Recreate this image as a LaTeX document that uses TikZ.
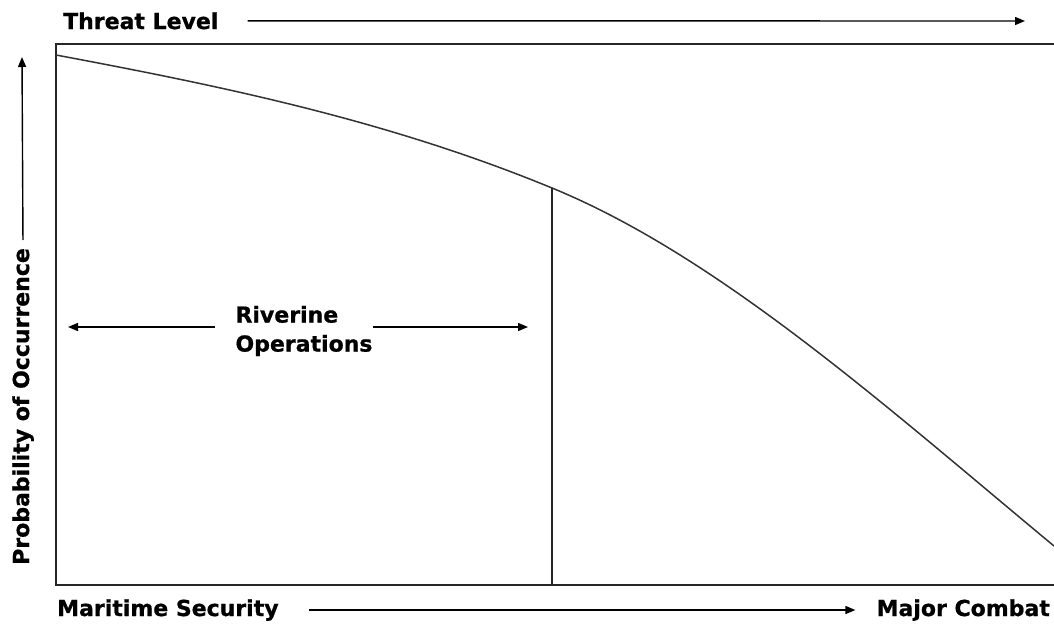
\documentclass[tikz,border=0pt]{standalone}
\usepackage{fontspec}
\setmainfont{DejaVu Sans}[BoldFeatures={FakeBold=0.8}]
\usetikzlibrary{arrows.meta,positioning}

\begin{document}
\begin{tikzpicture}[x=1pt,y=-1pt,font=\fontsize{22}{29}\selectfont\bfseries,
    frame/.style={line width=1.6pt,draw=black!85},
    curve/.style={line width=1.5pt,draw=black!80},
    tip/.style={-{Triangle[length=10pt,width=8pt]},line width=1.4pt,draw=black}]
   \useasboundingbox (0,0) rectangle (1054,624);

   % the frame, open on the right
   \draw[frame] (1054,44) -- (56,44) -- (56,585) -- (1054,585);

   \node[anchor=base west, inner sep=0] (threat) at (63,29) {Threat Level};
   \node[anchor=base west, inner sep=0] (maritime) at (57,616) {Maritime Security};
   \node[anchor=base east, inner sep=0] (major) at (1050,616) {Major Combat};
   \node[anchor=base west, inner sep=0, rotate=90] (prob) at (29,565) {Probability of Occurrence};
   \node[align=left, inner sep=0] (riv) at (304,331) {Riverine\\Operations};

   \coordinate (threat_end) at (1025,21);
   \coordinate (prob_end) at (22,57);
   \coordinate (riv_l) at (68,327);
   \coordinate (riv_r) at (528,327);
   \coordinate (c_top) at (552,188);
   \coordinate (c_bot) at (552,585);

   \path 
    (threat.east) edge [tip, shorten <=29pt] (threat_end)
    (prob.east) edge [tip, shorten <=8pt] (prob_end)
    (maritime.east) edge [tip, shorten <=30pt, shorten >=21pt] (major.west |- maritime.east)
    (riv.west |- riv_l) edge [tip, shorten <=20pt] (riv_l)
    (riv.east |- riv_r) edge [tip] (riv_r);

   % probability curve
   \draw[curve] (56,55) .. controls (221,86) and (387,120) .. (c_top)
                        .. controls (719,256.5) and (887,407.4) .. (1054,546);
   \draw[frame] (c_top) -- (c_bot);
\end{tikzpicture}
\end{document}
